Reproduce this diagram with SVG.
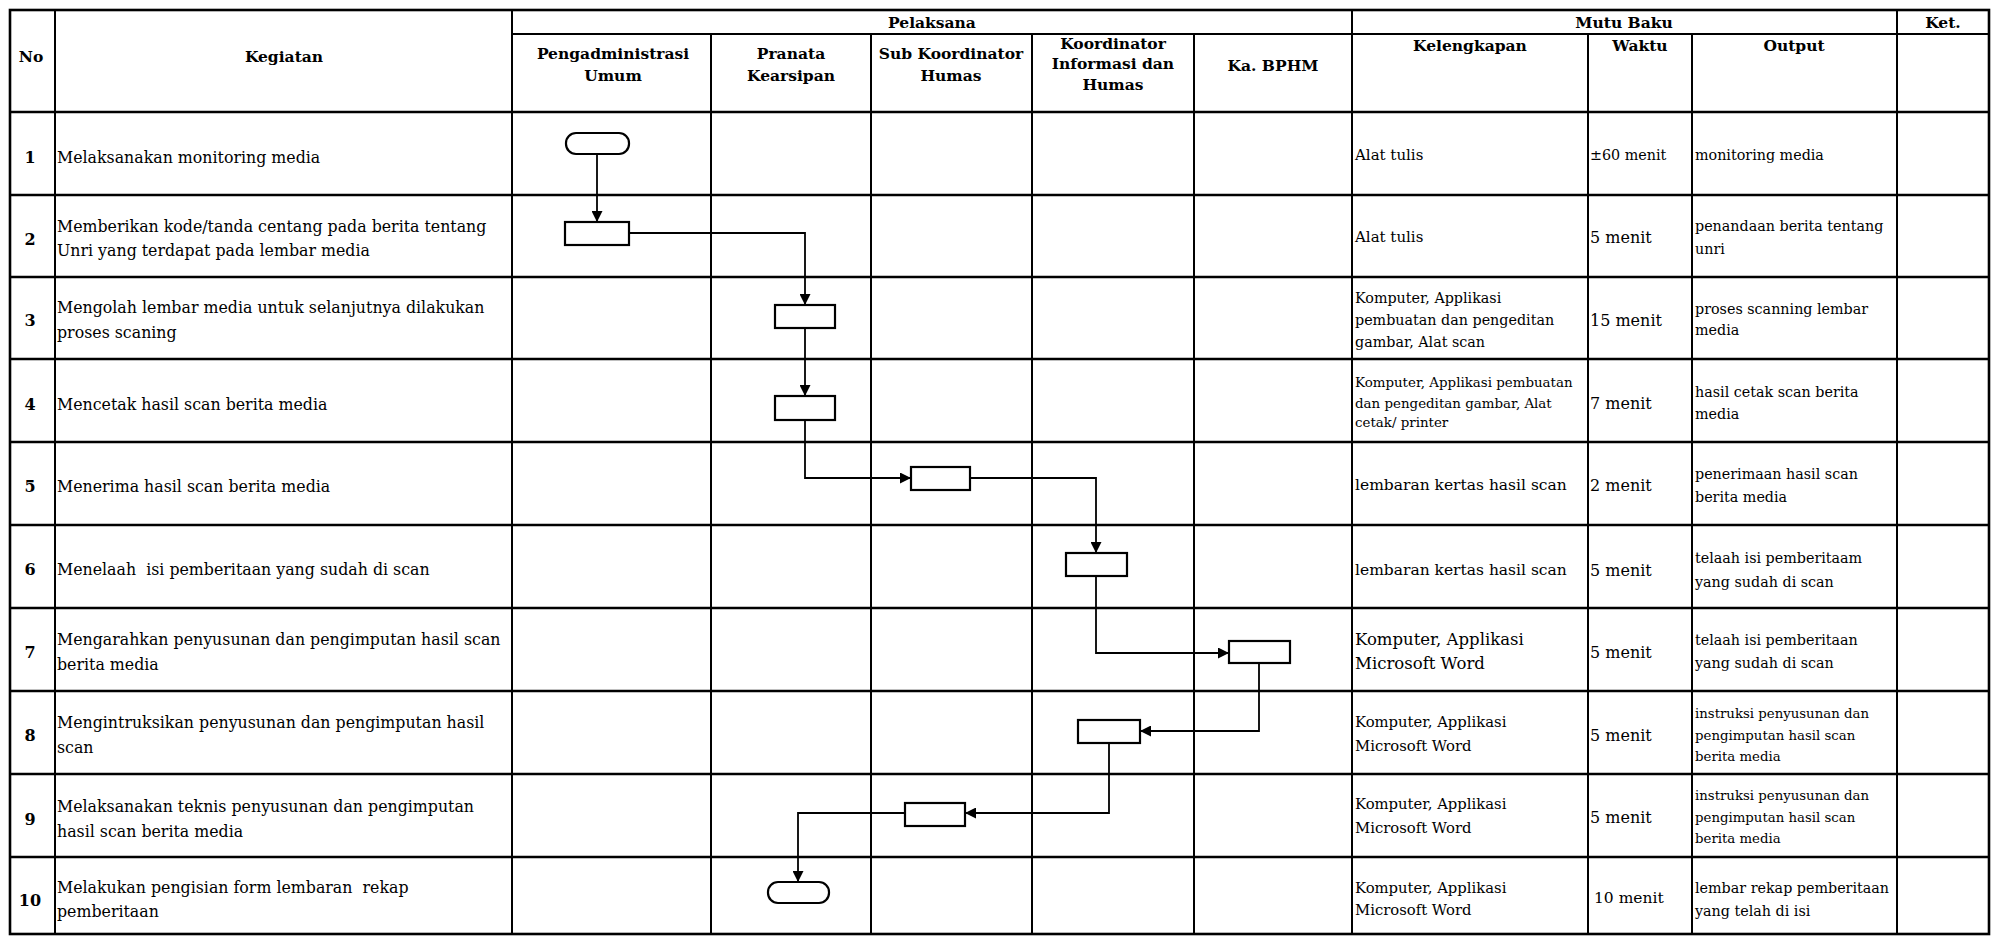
<svg xmlns="http://www.w3.org/2000/svg" width="1992" height="936" viewBox="0 0 1992 936">
<defs>
<style>
.bg{fill:#fff}
.g{stroke:#000;stroke-width:2;fill:none}
.gb{stroke:#000;stroke-width:2.6;fill:none}
.box{fill:#fff;stroke:#000;stroke-width:2.2}
.cn{fill:none;stroke:#000;stroke-width:1.8}
text{font-family:"DejaVu Serif","Liberation Serif",serif;fill:#000}
.h{font-weight:bold;font-size:15.5px;text-anchor:middle}
.n{font-weight:bold;font-size:16px;text-anchor:middle}
.k{font-size:15.8px}
.a{font-size:15px}
.w{font-size:16px}
.o{font-size:14.3px}
.o2{font-size:13.3px}
.k3{font-size:14.3px}
.k4{font-size:13.4px}
.k7{font-size:16.5px}
.k8{font-size:14.8px}
</style>
<marker id="ar" viewBox="0 0 10 10" refX="10" refY="5" markerWidth="11" markerHeight="11" markerUnits="userSpaceOnUse" orient="auto">
<path d="M0,0 L10,5 L0,10 z" fill="#000"/>
</marker>
</defs>
<rect class="bg" x="0" y="0" width="1992" height="936"/>

<g id="table">
<rect class="gb" x="10" y="10" width="1979" height="924"/>
<line class="g" x1="512" y1="34" x2="1989" y2="34"/>
<line class="gb" x1="10" y1="112" x2="1989" y2="112"/>
<line class="gb" x1="10" y1="195" x2="1989" y2="195"/>
<line class="gb" x1="10" y1="277" x2="1989" y2="277"/>
<line class="gb" x1="10" y1="359" x2="1989" y2="359"/>
<line class="gb" x1="10" y1="442" x2="1989" y2="442"/>
<line class="gb" x1="10" y1="525" x2="1989" y2="525"/>
<line class="gb" x1="10" y1="608" x2="1989" y2="608"/>
<line class="gb" x1="10" y1="691" x2="1989" y2="691"/>
<line class="gb" x1="10" y1="774" x2="1989" y2="774"/>
<line class="gb" x1="10" y1="857" x2="1989" y2="857"/>
<line class="g" x1="55" y1="10" x2="55" y2="934"/>
<line class="g" x1="512" y1="10" x2="512" y2="934"/>
<line class="g" x1="711" y1="34" x2="711" y2="934"/>
<line class="g" x1="871" y1="34" x2="871" y2="934"/>
<line class="g" x1="1032" y1="34" x2="1032" y2="934"/>
<line class="g" x1="1194" y1="34" x2="1194" y2="934"/>
<line class="g" x1="1352" y1="10" x2="1352" y2="934"/>
<line class="g" x1="1588" y1="34" x2="1588" y2="934"/>
<line class="g" x1="1692" y1="34" x2="1692" y2="934"/>
<line class="g" x1="1897" y1="10" x2="1897" y2="934"/>
</g>

<g id="headers">
<text class="h" x="31" y="62">No</text>
<text class="h" x="284" y="62">Kegiatan</text>
<text class="h" x="932" y="28">Pelaksana</text>
<text class="h" x="1624" y="28">Mutu Baku</text>
<text class="h" x="1943" y="28">Ket.</text>
<text class="h" x="613" y="59">Pengadministrasi</text>
<text class="h" x="613" y="81">Umum</text>
<text class="h" x="791" y="59">Pranata</text>
<text class="h" x="791" y="81">Kearsipan</text>
<text class="h" x="951" y="59">Sub Koordinator</text>
<text class="h" x="951" y="81">Humas</text>
<text class="h" x="1113" y="49">Koordinator</text>
<text class="h" x="1113" y="69">Informasi dan</text>
<text class="h" x="1113" y="90">Humas</text>
<text class="h" x="1273" y="71">Ka. BPHM</text>
<text class="h" x="1470" y="51">Kelengkapan</text>
<text class="h" x="1640" y="51">Waktu</text>
<text class="h" x="1794" y="51">Output</text>
</g>

<g id="row1">
<text class="n" x="30" y="163">1</text>
<text class="k" x="57" y="163">Melaksanakan monitoring media</text>
<text class="a" x="1355" y="160">Alat tulis</text>
<text class="o" x="1590" y="160">±60 menit</text>
<text class="o" x="1695" y="160">monitoring media</text>
</g>
<g id="row2">
<text class="n" x="30" y="245">2</text>
<text class="k" x="57" y="232">Memberikan kode/tanda centang pada berita tentang</text>
<text class="k" x="57" y="256">Unri yang terdapat pada lembar media</text>
<text class="a" x="1355" y="242">Alat tulis</text>
<text class="w" x="1590" y="243">5 menit</text>
<text class="o" x="1695" y="231">penandaan berita tentang</text>
<text class="o" x="1695" y="254">unri</text>
</g>
<g id="row3">
<text class="n" x="30" y="326">3</text>
<text class="k" x="57" y="313">Mengolah lembar media untuk selanjutnya dilakukan</text>
<text class="k" x="57" y="338">proses scaning</text>
<text class="k3" x="1355" y="303">Komputer, Applikasi</text>
<text class="k3" x="1355" y="325">pembuatan dan pengeditan</text>
<text class="k3" x="1355" y="347">gambar, Alat scan</text>
<text class="w" x="1590" y="326">15 menit</text>
<text class="o" x="1695" y="314">proses scanning lembar</text>
<text class="o" x="1695" y="335">media</text>
</g>
<g id="row4">
<text class="n" x="30" y="410">4</text>
<text class="k" x="57" y="410">Mencetak hasil scan berita media</text>
<text class="k4" x="1355" y="387">Komputer, Applikasi pembuatan</text>
<text class="k4" x="1355" y="408">dan pengeditan gambar, Alat</text>
<text class="k4" x="1355" y="427">cetak/ printer</text>
<text class="w" x="1590" y="409">7 menit</text>
<text class="o" x="1695" y="397">hasil cetak scan berita</text>
<text class="o" x="1695" y="419">media</text>
</g>
<g id="row5">
<text class="n" x="30" y="492">5</text>
<text class="k" x="57" y="492">Menerima hasil scan berita media</text>
<text class="a" x="1355" y="490" style="font-size:15.5px">lembaran kertas hasil scan</text>
<text class="w" x="1590" y="491">2 menit</text>
<text class="o" x="1695" y="479">penerimaan hasil scan</text>
<text class="o" x="1695" y="502">berita media</text>
</g>
<g id="row6">
<text class="n" x="30" y="575">6</text>
<text class="k" x="57" y="575" xml:space="preserve">Menelaah  isi pemberitaan yang sudah di scan</text>
<text class="a" x="1355" y="575" style="font-size:15.5px">lembaran kertas hasil scan</text>
<text class="w" x="1590" y="576">5 menit</text>
<text class="o" x="1695" y="563">telaah isi pemberitaam</text>
<text class="o" x="1695" y="587">yang sudah di scan</text>
</g>
<g id="row7">
<text class="n" x="30" y="658">7</text>
<text class="k" x="57" y="645">Mengarahkan penyusunan dan pengimputan hasil scan</text>
<text class="k" x="57" y="670">berita media</text>
<text class="k7" x="1355" y="645">Komputer, Applikasi</text>
<text class="k7" x="1355" y="669">Microsoft Word</text>
<text class="w" x="1590" y="658">5 menit</text>
<text class="o" x="1695" y="645">telaah isi pemberitaan</text>
<text class="o" x="1695" y="668">yang sudah di scan</text>
</g>
<g id="row8">
<text class="n" x="30" y="741">8</text>
<text class="k" x="57" y="728">Mengintruksikan penyusunan dan pengimputan hasil</text>
<text class="k" x="57" y="753">scan</text>
<text class="k8" x="1355" y="727">Komputer, Applikasi</text>
<text class="k8" x="1355" y="751">Microsoft Word</text>
<text class="w" x="1590" y="741">5 menit</text>
<text class="o2" x="1695" y="718">instruksi penyusunan dan</text>
<text class="o2" x="1695" y="740">pengimputan hasil scan</text>
<text class="o2" x="1695" y="761">berita media</text>
</g>
<g id="row9">
<text class="n" x="30" y="825">9</text>
<text class="k" x="57" y="812">Melaksanakan teknis penyusunan dan pengimputan</text>
<text class="k" x="57" y="837">hasil scan berita media</text>
<text class="k8" x="1355" y="809">Komputer, Applikasi</text>
<text class="k8" x="1355" y="833">Microsoft Word</text>
<text class="w" x="1590" y="823">5 menit</text>
<text class="o2" x="1695" y="800">instruksi penyusunan dan</text>
<text class="o2" x="1695" y="822">pengimputan hasil scan</text>
<text class="o2" x="1695" y="843">berita media</text>
</g>
<g id="row10">
<text class="n" x="30" y="906">10</text>
<text class="k" x="57" y="893" xml:space="preserve">Melakukan pengisian form lembaran  rekap</text>
<text class="k" x="57" y="917">pemberitaan</text>
<text class="k8" x="1355" y="893">Komputer, Applikasi</text>
<text class="k8" x="1355" y="915">Microsoft Word</text>
<text class="w" x="1594" y="903" style="font-size:15.5px">10 menit</text>
<text class="o" x="1695" y="893">lembar rekap pemberitaan</text>
<text class="o" x="1695" y="916">yang telah di isi</text>
</g>

<g id="connectors">
<path class="cn" d="M597,154 V222" marker-end="url(#ar)"/>
<path class="cn" d="M629,233 H805 V305" marker-end="url(#ar)"/>
<path class="cn" d="M805,328 V396" marker-end="url(#ar)"/>
<path class="cn" d="M805,420 V478 H911" marker-end="url(#ar)"/>
<path class="cn" d="M970,478 H1096 V553" marker-end="url(#ar)"/>
<path class="cn" d="M1096,576 V653 H1229" marker-end="url(#ar)"/>
<path class="cn" d="M1259,663 V731 H1140" marker-end="url(#ar)"/>
<path class="cn" d="M1109,743 V813 H965" marker-end="url(#ar)"/>
<path class="cn" d="M905,813 H798 V882" marker-end="url(#ar)"/>
</g>

<g id="n1"><rect class="box" x="566" y="133" width="63" height="21" rx="10" ry="10"/></g>
<g id="n2"><rect class="box" x="565" y="222" width="64" height="23"/></g>
<g id="n3"><rect class="box" x="775" y="305" width="60" height="23"/></g>
<g id="n4"><rect class="box" x="775" y="396" width="60" height="24"/></g>
<g id="n5"><rect class="box" x="911" y="467" width="59" height="23"/></g>
<g id="n6"><rect class="box" x="1066" y="553" width="61" height="23"/></g>
<g id="n7"><rect class="box" x="1229" y="641" width="61" height="22"/></g>
<g id="n8"><rect class="box" x="1078" y="720" width="62" height="23"/></g>
<g id="n9"><rect class="box" x="905" y="803" width="60" height="23"/></g>
<g id="n10"><rect class="box" x="768" y="882" width="61" height="21" rx="10" ry="10"/></g>
</svg>
